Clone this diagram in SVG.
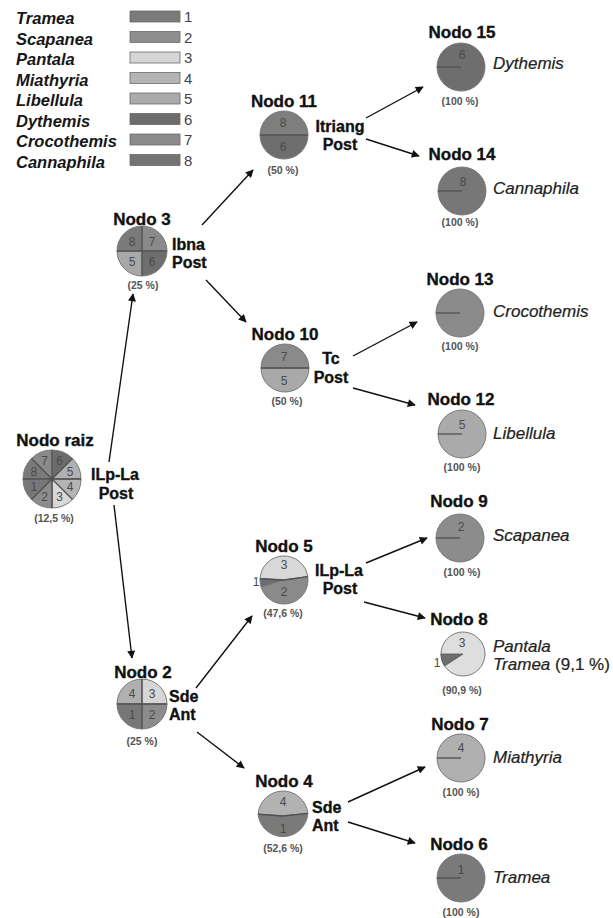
<svg xmlns="http://www.w3.org/2000/svg" width="613" height="918" viewBox="0 0 613 918">
<defs>
<marker id="ah" viewBox="0 0 10 10" refX="9" refY="5" markerWidth="9" markerHeight="8" markerUnits="userSpaceOnUse" orient="auto"><path d="M0,0 L10,5 L0,10 z" fill="#111"/></marker>
</defs>
<style>
.t{font-family:"Liberation Sans",Arial,sans-serif;font-weight:bold;font-size:17px;fill:#111;stroke:#111;stroke-width:0.35}
.s{font-family:"Liberation Sans",Arial,sans-serif;font-weight:bold;font-size:16px;fill:#111;stroke:#111;stroke-width:0.35}
.m{text-anchor:middle}
.sp{font-family:"Liberation Sans",Arial,sans-serif;font-style:italic;font-size:17px;fill:#222;stroke:#222;stroke-width:0.2}
.lg{font-family:"Liberation Sans",Arial,sans-serif;font-weight:bold;font-style:italic;font-size:16.5px;fill:#161616}
.ln{font-family:"Liberation Sans",Arial,sans-serif;font-size:15px;fill:#444}
.pc{font-family:"Liberation Sans",Arial,sans-serif;font-weight:bold;font-size:10.5px;fill:#555;text-anchor:middle}
.n{font-family:"Liberation Sans",Arial,sans-serif;font-size:12px;fill:#4a4a4a;text-anchor:middle}
.pie{stroke:#7a7a7a;stroke-width:1}
.sep{stroke:#505050;stroke-width:1.3;fill:none}
.bar{stroke:#6a6a6a;stroke-width:0.8}
.c{stroke:#111;stroke-width:1.4;fill:none;marker-end:url(#ah)}
</style>
<rect width="613" height="918" fill="#fff"/>

<g id="legend">
<text class="lg" x="16" y="24">Tramea</text>
<text class="lg" x="16" y="44.5">Scapanea</text>
<text class="lg" x="16" y="65">Pantala</text>
<text class="lg" x="16" y="85.5">Miathyria</text>
<text class="lg" x="16" y="106">Libellula</text>
<text class="lg" x="16" y="126.5">Dythemis</text>
<text class="lg" x="16" y="147">Crocothemis</text>
<text class="lg" x="16" y="167.5">Cannaphila</text>
<rect class="bar" x="130" y="11" width="50" height="11" fill="#7a7a7a"/>
<rect class="bar" x="130" y="31.5" width="50" height="11" fill="#8e8e8e"/>
<rect class="bar" x="130" y="52" width="50" height="11" fill="#d6d6d6"/>
<rect class="bar" x="130" y="72.5" width="50" height="11" fill="#b4b4b4"/>
<rect class="bar" x="130" y="93" width="50" height="11" fill="#ababab"/>
<rect class="bar" x="130" y="113.5" width="50" height="11" fill="#6c6c6c"/>
<rect class="bar" x="130" y="134" width="50" height="11" fill="#8a8a8a"/>
<rect class="bar" x="130" y="154.5" width="50" height="11" fill="#747474"/>
<text class="ln" x="184" y="22">1</text>
<text class="ln" x="184" y="42.5">2</text>
<text class="ln" x="184" y="63">3</text>
<text class="ln" x="184" y="83.5">4</text>
<text class="ln" x="184" y="104">5</text>
<text class="ln" x="184" y="124.5">6</text>
<text class="ln" x="184" y="145">7</text>
<text class="ln" x="184" y="165.5">8</text>
</g>

<g id="connectors">
<path class="c" d="M109,462 L133,294"/>
<path class="c" d="M114,505 L132,658"/>
<path class="c" d="M202,225 L253,170"/>
<path class="c" d="M206,280 L246,322"/>
<path class="c" d="M366,118 L423,87"/>
<path class="c" d="M366,139 L419,156"/>
<path class="c" d="M353,356 L417,322"/>
<path class="c" d="M353,388 L415,405"/>
<path class="c" d="M196,688 L252,616"/>
<path class="c" d="M197,732 L244,768"/>
<path class="c" d="M366,563 L427,538"/>
<path class="c" d="M364,602 L425,618"/>
<path class="c" d="M348,802 L425,767"/>
<path class="c" d="M348,822 L415,843"/>
</g>

<g id="nodo-raiz">
<text class="t m" x="55" y="446">Nodo raiz</text>
<g class="pie">
<path d="M52,479 L52,450 A29,29 0 0 1 72.51,458.49 Z" fill="#6c6c6c"/>
<path d="M52,479 L72.51,458.49 A29,29 0 0 1 81,479 Z" fill="#b0b0b0"/>
<path d="M52,479 L81,479 A29,29 0 0 1 72.51,499.51 Z" fill="#b4b4b4"/>
<path d="M52,479 L72.51,499.51 A29,29 0 0 1 52,508 Z" fill="#d8d8d8"/>
<path d="M52,479 L52,508 A29,29 0 0 1 31.49,499.51 Z" fill="#8c8c8c"/>
<path d="M52,479 L31.49,499.51 A29,29 0 0 1 23,479 Z" fill="#777777"/>
<path d="M52,479 L23,479 A29,29 0 0 1 31.49,458.49 Z" fill="#7a7a7a"/>
<path d="M52,479 L31.49,458.49 A29,29 0 0 1 52,450 Z" fill="#8a8a8a"/>
</g>
<path class="sep" d="M23,479 H81 M52,450 V508 M31.49,458.49 L72.51,499.51 M72.51,458.49 L31.49,499.51"/>
<text class="n" x="44.5" y="465">7</text>
<text class="n" x="59.5" y="465">6</text>
<text class="n" x="33.8" y="475.5">8</text>
<text class="n" x="70.2" y="475.5">5</text>
<text class="n" x="33.8" y="490.5">1</text>
<text class="n" x="70.2" y="490.5">4</text>
<text class="n" x="44.5" y="501">2</text>
<text class="n" x="59.5" y="501">3</text>
<text class="s m" x="115" y="480">ILp-La</text>
<text class="s m" x="116" y="499">Post</text>
<text class="pc" x="54" y="522">(12,5 %)</text>
</g>

<g id="nodo-3">
<text class="t m" x="142" y="225">Nodo 3</text>
<g class="pie">
<path d="M142,251 L117,251 A25,25 0 0 1 142,226 Z" fill="#7a7a7a"/>
<path d="M142,251 L142,226 A25,25 0 0 1 167,251 Z" fill="#8a8a8a"/>
<path d="M142,251 L167,251 A25,25 0 0 1 142,276 Z" fill="#6e6e6e"/>
<path d="M142,251 L142,276 A25,25 0 0 1 117,251 Z" fill="#a8a8a8"/>
</g>
<path class="sep" d="M117,251 H167 M142,226 V276"/>
<text class="n" x="132" y="246">8</text>
<text class="n" x="152" y="246">7</text>
<text class="n" x="132" y="266">5</text>
<text class="n" x="152" y="266">6</text>
<text class="s" x="172" y="250">Ibna</text>
<text class="s" x="172" y="268">Post</text>
<text class="pc" x="143" y="289">(25 %)</text>
</g>

<g id="nodo-11">
<text class="t m" x="284" y="107">Nodo 11</text>
<g class="pie">
<path d="M260,135 A24,24 0 0 1 308,135 Z" fill="#7e7e7e"/>
<path d="M308,135 A24,24 0 0 1 260,135 Z" fill="#6e6e6e"/>
</g>
<path class="sep" d="M260,135 H308"/>
<text class="n" x="283" y="127">8</text>
<text class="n" x="283" y="151">6</text>
<text class="s m" x="340" y="132">Itriang</text>
<text class="s m" x="340" y="150">Post</text>
<text class="pc" x="283" y="174">(50 %)</text>
</g>

<g id="nodo-15">
<text class="t m" x="462" y="38">Nodo 15</text>
<circle class="pie" cx="461" cy="67" r="24" fill="#6e6e6e"/>
<path class="sep" d="M437,67 H461"/>
<text class="n" x="462" y="59">6</text>
<text class="sp" x="493" y="69">Dythemis</text>
<text class="pc" x="460" y="105">(100 %)</text>
</g>

<g id="nodo-14">
<text class="t m" x="462" y="160">Nodo 14</text>
<circle class="pie" cx="462" cy="191" r="24" fill="#777777"/>
<path class="sep" d="M438,191 H462"/>
<text class="n" x="463" y="186">8</text>
<text class="sp" x="493" y="194">Cannaphila</text>
<text class="pc" x="460" y="226">(100 %)</text>
</g>

<g id="nodo-10">
<text class="t m" x="285" y="340">Nodo 10</text>
<g class="pie">
<path d="M261,368 A24,24 0 0 1 309,368 Z" fill="#8a8a8a"/>
<path d="M309,368 A24,24 0 0 1 261,368 Z" fill="#a9a9a9"/>
</g>
<path class="sep" d="M261,368 H309"/>
<text class="n" x="284" y="361">7</text>
<text class="n" x="284" y="385">5</text>
<text class="s m" x="331" y="364">Tc</text>
<text class="s m" x="331" y="383">Post</text>
<text class="pc" x="287" y="405">(50 %)</text>
</g>

<g id="nodo-13">
<text class="t m" x="460" y="285">Nodo 13</text>
<circle class="pie" cx="460" cy="313" r="24" fill="#8a8a8a"/>
<path class="sep" d="M436,313 H460"/>
<text class="sp" x="493" y="317">Crocothemis</text>
<text class="pc" x="460" y="350">(100 %)</text>
</g>

<g id="nodo-12">
<text class="t m" x="461" y="405">Nodo 12</text>
<circle class="pie" cx="462" cy="434" r="24" fill="#aaaaaa"/>
<path class="sep" d="M438,434 H462"/>
<text class="n" x="462" y="429">5</text>
<text class="sp" x="493" y="439">Libellula</text>
<text class="pc" x="462" y="471">(100 %)</text>
</g>

<g id="nodo-5">
<text class="t m" x="284" y="552">Nodo 5</text>
<g class="pie">
<path d="M284,580 L260.03,578.74 A24,24 0 0 1 307.77,576.66 Z" fill="#d8d8d8"/>
<path d="M284,580 L307.77,576.66 A24,24 0 0 1 261.05,587.02 Z" fill="#8a8a8a"/>
<path d="M284,580 L261.05,587.02 A24,24 0 0 1 260.03,578.74 Z" fill="#6e6e6e"/>
</g>
<path class="sep" d="M260.03,578.74 L284,580 L307.77,576.66"/>
<text class="n" x="284" y="569">3</text>
<text class="n" x="284" y="596">2</text>
<text class="n" x="256" y="586">1</text>
<text class="s m" x="339" y="576">ILp-La</text>
<text class="s m" x="340" y="594">Post</text>
<text class="pc" x="283" y="617">(47,6 %)</text>
</g>

<g id="nodo-9">
<text class="t m" x="459" y="507">Nodo 9</text>
<circle class="pie" cx="460" cy="538" r="24" fill="#8c8c8c"/>
<path class="sep" d="M436,538 H460"/>
<text class="n" x="461" y="531">2</text>
<text class="sp" x="493" y="541">Scapanea</text>
<text class="pc" x="462" y="576">(100 %)</text>
</g>

<g id="nodo-8">
<text class="t m" x="459" y="625">Nodo 8</text>
<circle class="pie" cx="463" cy="654" r="22" fill="#dedede"/>
<path d="M463,654 L444.5,666 A22,22 0 0 1 441,654 Z" fill="#6e6e6e" stroke="#555" stroke-width="0.8"/>
<text class="n" x="462" y="647">3</text>
<text class="n" x="437" y="667">1</text>
<text class="sp" x="493" y="652">Pantala</text>
<text class="sp" x="493" y="670">Tramea <tspan font-style="normal">(9,1 %)</tspan></text>
<text class="pc" x="462" y="694">(90,9 %)</text>
</g>

<g id="nodo-2">
<text class="t m" x="143" y="678">Nodo 2</text>
<g class="pie">
<path d="M142,704 L117,704 A25,25 0 0 1 142,679 Z" fill="#b0b0b0"/>
<path d="M142,704 L142,679 A25,25 0 0 1 167,704 Z" fill="#d6d6d6"/>
<path d="M142,704 L167,704 A25,25 0 0 1 142,729 Z" fill="#8c8c8c"/>
<path d="M142,704 L142,729 A25,25 0 0 1 117,704 Z" fill="#777777"/>
</g>
<path class="sep" d="M117,704 H167 M142,679 V729"/>
<text class="n" x="132" y="698">4</text>
<text class="n" x="152" y="698">3</text>
<text class="n" x="132" y="719">1</text>
<text class="n" x="152" y="719">2</text>
<text class="s" x="169" y="702">Sde</text>
<text class="s" x="169" y="720">Ant</text>
<text class="pc" x="142" y="745">(25 %)</text>
</g>

<g id="nodo-4">
<text class="t m" x="284" y="787">Nodo 4</text>
<g class="pie">
<path d="M283,816 L258.06,814.26 A25,25 0 0 1 307.86,813.39 Z" fill="#b2b2b2"/>
<path d="M283,816 L307.86,813.39 A25,25 0 0 1 258.06,814.26 Z" fill="#7a7a7a"/>
</g>
<path class="sep" d="M258.06,814.26 L283,816 L307.86,813.39"/>
<text class="n" x="283" y="806">4</text>
<text class="n" x="283" y="833">1</text>
<text class="s" x="312" y="813">Sde</text>
<text class="s" x="312" y="831">Ant</text>
<text class="pc" x="283" y="852">(52,6 %)</text>
</g>

<g id="nodo-7">
<text class="t m" x="460" y="730">Nodo 7</text>
<circle class="pie" cx="461" cy="758" r="24" fill="#b0b0b0"/>
<path class="sep" d="M437,758 H461"/>
<text class="n" x="461" y="752">4</text>
<text class="sp" x="493" y="763">Miathyria</text>
<text class="pc" x="461" y="796">(100 %)</text>
</g>

<g id="nodo-6">
<text class="t m" x="459" y="850">Nodo 6</text>
<circle class="pie" cx="461" cy="878" r="24" fill="#7a7a7a"/>
<path class="sep" d="M437,878 H461"/>
<text class="n" x="461" y="874">1</text>
<text class="sp" x="493" y="883">Tramea</text>
<text class="pc" x="461" y="916">(100 %)</text>
</g>
</svg>
